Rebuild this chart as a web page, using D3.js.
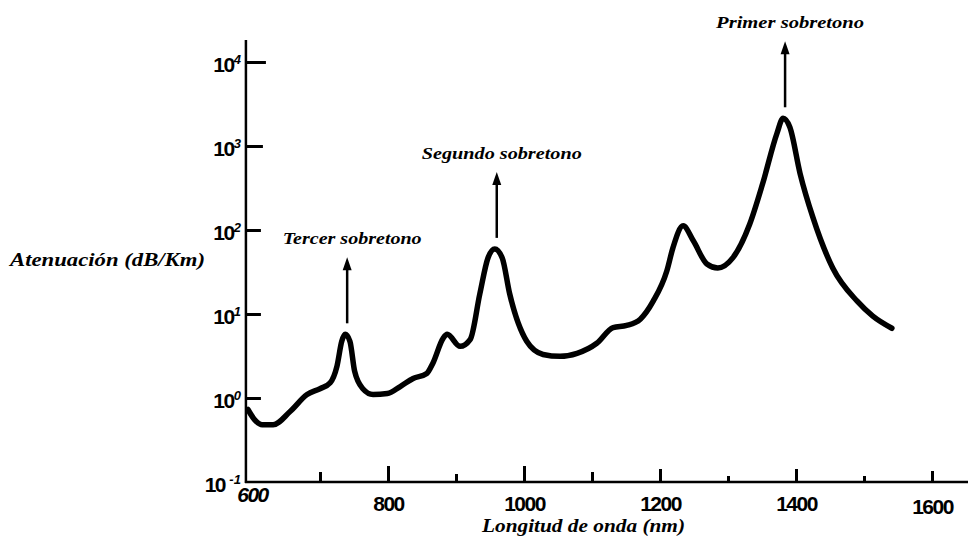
<!DOCTYPE html>
<html>
<head>
    <meta charset="utf-8">
    <title>Atenuacion fibra</title>
    <script type="text/javascript" src="https://cdn.jsdelivr.net/npm/d3@7/dist/d3.min.js"></script>
    <style>
        body { margin: 0; background: #fff; }
        .tick text { font-family: "Liberation Sans", Arial, sans-serif; font-weight: bold; fill: #000; }
        .script { font-family: "Liberation Serif", "DejaVu Serif", serif; font-style: italic; font-weight: bold; fill: #000; }
    </style>
</head>
<body>
<script type="text/javascript">
// curve (nm, dB/Km)
var wavelength = [594, 604, 615, 631, 656, 681, 700, 715, 725, 732, 737, 744, 751, 763, 778, 799, 818, 837, 857, 866,
    881, 887, 906, 921, 935, 947, 957, 968, 979, 1004, 1028, 1053, 1078, 1107, 1131, 1151, 1171, 1190, 1210, 1219,
    1234, 1249, 1269, 1285, 1307, 1332, 1351, 1372, 1381, 1391, 1406, 1425, 1454, 1490, 1513, 1541];
var attenuation = [0.73, 0.55, 0.48, 0.48, 0.69, 1.10, 1.29, 1.52, 2.4, 4.73, 5.73, 4.73, 2.07, 1.29, 1.10, 1.13, 1.37, 1.71, 1.96, 2.6,
    5.14, 5.73, 4.12, 5.0, 17.3, 46.5, 59.6, 46.5, 17.3, 4.73, 3.30, 3.13, 3.40, 4.48, 6.9, 7.3, 8.67, 14.2, 32.5, 61.2,
    112, 74.3, 39.4, 35.3, 46.5, 118, 357, 1416, 2138, 1667, 470, 140, 35.3, 14.2, 9.42, 6.76];

var xTicks = [600, 700, 800, 900, 1000, 1100, 1200, 1300, 1400, 1500, 1600];
var xLabels = ["600", "", "800", "", "1000", "", "1200", "", "1400", "", "1600"];
var yTicks = [0.1, 1, 10, 100, 1000, 10000];
var yExponents = ["-1", "0", "1", "2", "3", "4"];

var peakNames = ["Tercer sobretono", "Segundo sobretono", "Primer sobretono"];
var peakWavelengths = [737, 957, 1381];

var width = 968, height = 537;

var svg = d3.select("body").append("svg")
        .attr("width", width)
        .attr("height", height);

var x = d3.scaleLinear().domain([600, 1600]).range([252, 932]);
var y = d3.scaleLog().domain([0.1, 10000]).range([482, 62]);

var axisX = x(wavelength[0]) - 2; // y axis sits where the curve starts
var axisY = y(0.1);

// y axis
var yAxis = d3.axisLeft(y)
        .tickValues(yTicks)
        .tickSizeInner(-15)
        .tickSizeOuter(0)
        .tickPadding(5)
        .tickFormat(function () { return ""; });

var yG = svg.append("g")
        .attr("transform", "translate(" + axisX + ",0)")
        .call(yAxis);
yG.select(".domain").remove();
yG.selectAll(".tick line")
        .attr("stroke", "#000")
        .attr("stroke-width", 3)
        .attr("x2", function (d) { return d === 10000 ? 20 : (d === 1000 ? 17 : 15); });
yG.selectAll(".tick").filter(function (d) { return d === 0.1; }).select("line").remove();
yG.selectAll(".tick text")
        .attr("dy", "0.45em")
        .style("font-size", "21px")
        .style("letter-spacing", "-1.5px")
        .each(function (d, i) {
            var t = d3.select(this);
            t.append("tspan").text(d === 0.1 ? "10 " : "10");
            t.append("tspan")
                    .attr("dy", "-0.6em")
                    .style("font-size", "13px")
                    .style("font-style", "italic")
                    .style("letter-spacing", "0px")
                    .text(yExponents[i]);
        });

svg.append("line")
        .attr("x1", axisX).attr("x2", axisX)
        .attr("y1", 40).attr("y2", axisY + 1)
        .attr("stroke", "#000")
        .attr("stroke-width", 2.5);

// x axis
var xAxis = d3.axisBottom(x)
        .tickValues(xTicks)
        .tickSizeOuter(0)
        .tickSizeInner(-14)
        .tickPadding(12)
        .tickFormat(function (d, i) { return xLabels[i]; });

var xG = svg.append("g")
        .attr("transform", "translate(0," + axisY + ")")
        .call(xAxis);
xG.select(".domain").remove();
xG.selectAll(".tick line")
        .attr("stroke", "#000")
        .attr("stroke-width", 3)
        .attr("y2", function (d) {
            if (d === 600) return 0;
            if (d === 1300 || d === 1500) return -6;
            if (d === 900) return -8;
            if (d % 200 === 100) return -10;
            if (d === 1600) return -11;
            return d === 800 || d === 1000 ? -16 : -13;
        });
xG.selectAll(".tick text")
        .style("font-size", "21px")
        .style("letter-spacing", "-1.5px")
        .attr("dy", function (d) { return d === 600 ? "0.4em" : (d === 1600 ? "0.95em" : "0.8em"); })
        .style("font-style", function (d) { return d === 600 ? "italic" : "normal"; });

svg.append("line")
        .attr("x1", axisX - 1).attr("x2", width)
        .attr("y1", axisY).attr("y2", axisY)
        .attr("stroke", "#000")
        .attr("stroke-width", 2.5);

// curve
var points = wavelength.map(function (w, i) { return [w, attenuation[i]]; });

var line = d3.line()
        .x(function (d) { return x(d[0]); })
        .y(function (d) { return y(d[1]); })
        .curve(d3.curveMonotoneX);

svg.append("path")
        .datum(points)
        .attr("d", line)
        .attr("fill", "none")
        .attr("stroke", "#000")
        .attr("stroke-width", 5.5)
        .attr("stroke-linejoin", "round")
        .attr("stroke-linecap", "round");

// overtone arrows
var textWidths = [139, 160, 148];
peakWavelengths.forEach(function (w, i) {
    var idx = wavelength.indexOf(w);
    var px = x(w) + 2;
    var bottom = y(attenuation[idx]) - 11;
    var top = bottom - 66;

    svg.append("line")
            .attr("x1", px).attr("x2", px)
            .attr("y1", bottom).attr("y2", top + 8)
            .attr("stroke", "#000")
            .attr("stroke-width", 2.5);
    svg.append("path")
            .attr("d", "M" + px + "," + top + "L" + (px - 4.5) + "," + (top + 13) + "L" + (px + 4.5) + "," + (top + 13) + "Z")
            .attr("fill", "#000");

    svg.append("text")
            .attr("class", "script")
            .attr("x", px + 5 - textWidths[i] / 2)
            .attr("y", top - 13)
            .attr("textLength", textWidths[i])
            .attr("lengthAdjust", "spacingAndGlyphs")
            .style("font-size", "17px")
            .text(peakNames[i]);
});

// axis titles
svg.append("text")
        .attr("class", "script")
        .attr("x", 10)
        .attr("y", 266)
        .attr("textLength", 195)
        .attr("lengthAdjust", "spacingAndGlyphs")
        .style("font-size", "18px")
        .text("Atenuación (dB/Km)");

svg.append("text")
        .attr("class", "script")
        .attr("x", 482)
        .attr("y", 532)
        .attr("textLength", 203)
        .attr("lengthAdjust", "spacingAndGlyphs")
        .style("font-size", "18px")
        .text("Longitud de onda (nm)");
</script>
</body>
</html>
